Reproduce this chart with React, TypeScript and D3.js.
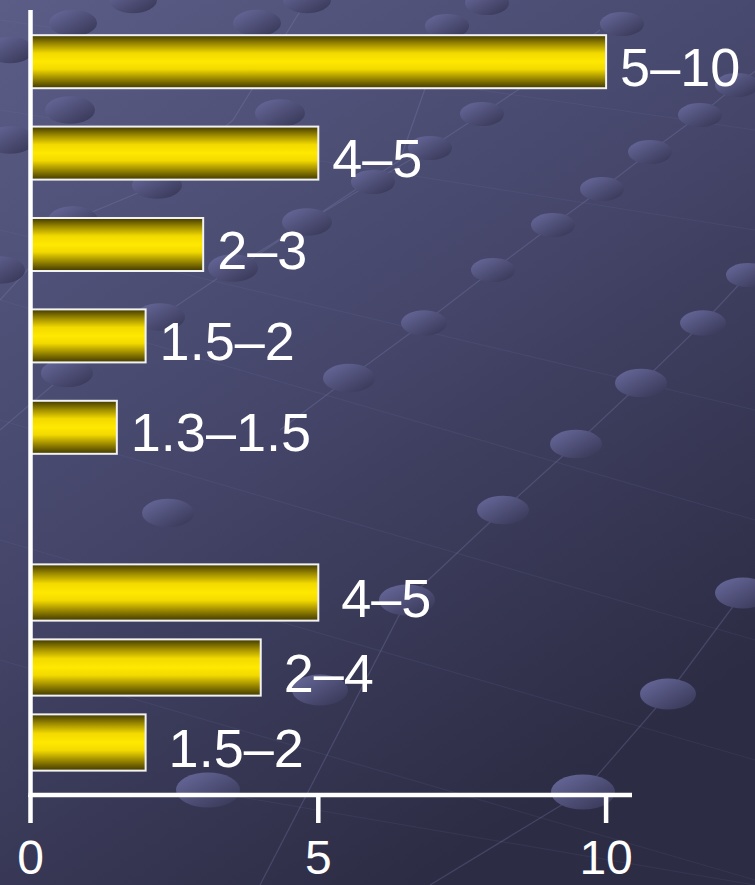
import React from 'react'
import * as d3 from 'd3'

const width = 755
const height = 885

// upper block of bars
const topLabels = ['5–10', '4–5', '2–3', '1.5–2', '1.3–1.5']
const topValues = [10, 5, 3, 2, 1.5]
// lower block of bars
const bottomLabels = ['4–5', '2–4', '1.5–2']
const bottomValues = [5, 4, 2]
const tickValues = [0, 5, 10]

// background decoration (template dots + guide lines), not data
const decoDots: [number, number, number][] = [
  [73, 23, 24], [257, 23, 24], [133, 0, 24], [307, 0, 24], [10, 50, 24], [70, 110, 25],
  [280, 113, 25], [10, 140, 25], [157, 185, 25], [73, 220, 25], [307, 222, 25], [0, 270, 25],
  [233, 268, 25], [160, 317, 25], [67, 373, 26], [168, 513, 26],
  [487, 3, 22], [447, 26, 22], [622, 24, 22], [737, 85, 22], [482, 114, 22], [700, 115, 22],
  [430, 148, 22], [650, 152, 22], [373, 182, 22], [602, 189, 22], [553, 225, 22],
  [493, 270, 22], [748, 275, 22], [424, 323, 23], [703, 323, 23], [349, 378, 26], [641, 383, 26],
  [576, 444, 26], [503, 510, 26], [743, 593, 28], [407, 600, 28], [320, 690, 28], [668, 694, 28],
  [208, 790, 32], [583, 792, 32]
]
const decoSteep: [number, number][][] = [
  [[430, 885], [583, 792], [668, 694], [743, 593], [790, 540]],
  [[260, 885], [407, 600], [503, 510], [576, 444], [641, 383], [703, 323], [748, 275], [790, 230]],
  [[280, 430], [349, 378], [424, 323], [493, 270], [553, 225], [602, 189], [650, 152], [700, 115], [737, 85], [790, 45]],
  [[250, 260], [307, 222], [373, 182], [430, 148], [482, 114], [540, 75], [600, 30]],
  [[0, 300], [73, 220], [157, 185], [233, 120], [307, 0]],
  [[0, 430], [67, 373], [160, 317], [233, 268], [307, 222], [400, 160], [447, 26]]
]
const decoShallow: [number, number][][] = [
  [[0, 20], [755, 130]], [[0, 110], [755, 230]], [[0, 230], [755, 410]], [[0, 300], [755, 520]],
  [[0, 420], [755, 640]], [[0, 540], [755, 760]], [[0, 660], [755, 880]], [[200, 790], [755, 885]]
]

const x = d3.scaleLinear().domain([0, 10.45]).range([30.5, 632])
const yTop = d3.scaleBand().domain(topLabels).range([16, 473]).paddingInner(0.42).paddingOuter(0.21)
const yBottom = d3.scaleBand().domain(bottomLabels).range([555, 780]).paddingInner(0.25).paddingOuter(0.125)
const line = d3.line()
const axisY = 795

const fontFamily = '"Liberation Sans", Arial, sans-serif'

export default function App() {
  const bars = [
    ...topLabels.map((l, i) => ({ label: l, value: topValues[i], y: yTop(l) || 0, bw: yTop.bandwidth(), gap: 14 })),
    ...bottomLabels.map((l, i) => ({ label: l, value: bottomValues[i], y: yBottom(l) || 0, bw: yBottom.bandwidth(), gap: 23 }))
  ]

  return (
    <svg width={width} height={height} style={{ position: 'absolute', left: 0, top: 0, display: 'block' }}>
      <defs>
        <linearGradient id="bg" x1="0" y1="0" x2="0.55" y2="1">
          <stop offset="0%" stopColor="#5b5d87" />
          <stop offset="50%" stopColor="#45466a" />
          <stop offset="100%" stopColor="#2c2c44" />
        </linearGradient>
        <linearGradient id="dot" x1="0" y1="0" x2="1" y2="1">
          <stop offset="0%" stopColor="#6a6b9e" />
          <stop offset="100%" stopColor="#343452" />
        </linearGradient>
        <linearGradient id="bar" x1="0" y1="0" x2="0" y2="1">
          <stop offset="0%" stopColor="#403800" />
          <stop offset="16%" stopColor="#9a8800" />
          <stop offset="34%" stopColor="#f2da00" />
          <stop offset="50%" stopColor="#ffe800" />
          <stop offset="64%" stopColor="#f2da00" />
          <stop offset="82%" stopColor="#9a8800" />
          <stop offset="100%" stopColor="#403800" />
        </linearGradient>
      </defs>

      <rect width={width} height={height} fill="url(#bg)" />
      <g fill="none" stroke="#8a8cc0">
        {decoShallow.map((pts, i) => (
          <path key={'s' + i} d={line(pts) || ''} strokeOpacity={0.1} strokeWidth={1.2} />
        ))}
        {decoSteep.map((pts, i) => (
          <path key={'t' + i} d={line(pts) || ''} strokeOpacity={0.25} strokeWidth={1.3} />
        ))}
      </g>
      <g fill="url(#dot)">
        {decoDots.map(([cx, cy, r], i) => (
          <ellipse key={i} cx={cx} cy={cy} rx={r} ry={r * 0.55} />
        ))}
      </g>

      {bars.map((b, i) => (
        <g key={i}>
          <rect
            x={x(0)}
            y={b.y}
            width={x(b.value) - x(0)}
            height={b.bw}
            fill="url(#bar)"
            stroke="#f2f2f2"
            strokeWidth={2}
          />
          <text
            x={x(b.value) + b.gap}
            y={b.y + b.bw / 2 + 24}
            fill="#fff"
            fontSize={54}
            fontFamily={fontFamily}
          >
            {b.label}
          </text>
        </g>
      ))}

      <g stroke="#fff" strokeWidth={4.5}>
        <line x1={x(0)} x2={x(0)} y1={10} y2={axisY + 2} />
        <line x1={x(0) - 2} x2={632} y1={axisY} y2={axisY} />
        {tickValues.map(t => (
          <line key={t} x1={x(t)} x2={x(t)} y1={axisY} y2={823} />
        ))}
      </g>
      {tickValues.map(t => (
        <text
          key={t}
          x={x(t)}
          y={874}
          textAnchor="middle"
          fill="#fff"
          fontSize={48}
          fontFamily={fontFamily}
        >
          {t}
        </text>
      ))}
    </svg>
  )
}
